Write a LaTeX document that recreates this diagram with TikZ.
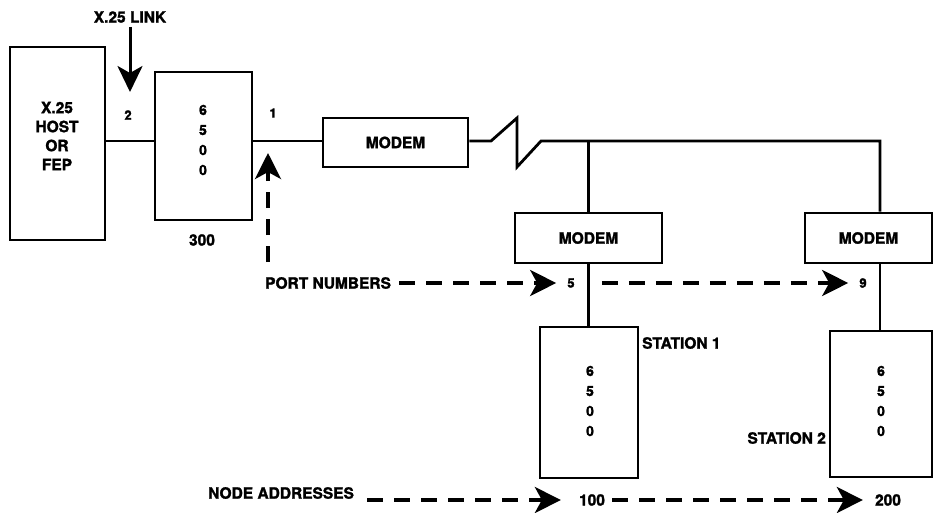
\documentclass[tikz,border=0pt]{standalone}
\usepackage{fontspec}
\setmainfont{TeX Gyre Heros}[BoldFeatures={FakeBold=1.6}]
\usetikzlibrary{arrows.meta}
\begin{document}
\begin{tikzpicture}[x=1pt,y=-1pt,
  box/.style={draw, line width=2.8pt, inner sep=0pt},
  lbl/.style={font=\fontsize{15.5}{19}\selectfont\bfseries, inner sep=0pt, align=center},
  dig/.style={font=\fontsize{14}{20}\selectfont\bfseries, inner sep=0pt, align=center},
  pnum/.style={font=\fontsize{13}{16}\selectfont\bfseries, inner sep=0pt, align=center},
  wire/.style={line width=2.8pt},
  darr/.style={line width=3.8pt, dash pattern=on 16pt off 11pt, -{Stealth[length=26pt,width=26pt,inset=7pt]}},
  sarr/.style={line width=3pt, -{Stealth[length=26pt,width=25pt,inset=7pt]}}]
\useasboundingbox (0,0) rectangle (951,512);
% boxes
\node[box, minimum width=95pt, minimum height=193pt] (host) at (57.5,143.5) {};
\node[lbl] (hosttxt) at (57,136) {X.25\\HOST\\OR\\FEP};
\node[box, minimum width=97pt, minimum height=148pt] (b300) at (203.5,146) {};
\node[dig] (b300txt) at (203,140) {6\\5\\0\\0};
\node[lbl] (n300) at (202,240) {300};
\node[box, minimum width=145pt, minimum height=49pt, lbl] (modA) at (395.5,142.5) {MODEM};
\node[box, minimum width=147pt, minimum height=50pt, lbl] (modB) at (588.5,238) {MODEM};
\node[box, minimum width=127pt, minimum height=50pt, lbl] (modC) at (868.5,238) {MODEM};
\node[box, minimum width=98pt, minimum height=151pt] (st1) at (589,402.5) {};
\node[dig] (st1txt) at (590,401) {6\\5\\0\\0};
\node[box, minimum width=102pt, minimum height=146pt] (st2) at (881,404) {};
\node[dig] (st2txt) at (881,401) {6\\5\\0\\0};
% labels
\node[lbl] (xlink) at (130,17) {X.25 LINK};
\node[pnum] (p2) at (128,115) {2};
\node[pnum] (p1) at (273,113) {1};
\node[lbl, anchor=west] (s1lbl) at (642,343) {STATION 1};
\node[lbl, anchor=east] (s2lbl) at (826,438) {STATION 2};
\node[lbl, anchor=west] (portlbl) at (265,283) {PORT NUMBERS};
\node[pnum] (p5) at (571,283) {5};
\node[pnum] (p9) at (863,283) {9};
\node[lbl, anchor=west] (nodelbl) at (208,493) {NODE ADDRESSES};
\node[lbl] (a100) at (592,500) {100};
\node[lbl] (a200) at (888,500) {200};
% wires
\coordinate (w) at (0,141);
\coordinate (z1) at (491,141);
\coordinate (z2) at (517,118);
\coordinate (z3) at (517,167);
\coordinate (z4) at (541,141);
\coordinate (jB) at (588.5,141);
\coordinate (jC) at (880,141);
\draw[wire] (host.east |- w) -- (b300.west |- w);
\draw[wire] (b300.east |- w) -- (modA.west |- w);
\draw[wire, line join=miter] (modA.east |- w) -- (z1) -- (z2) -- (z3) -- (z4) -- (jC) -- (jC |- modC.north);
\draw[wire] (jB) -- (modB.north);
\draw[wire] (modB.south) -- (modB.south |- st1.north);
\draw[wire] (jC |- modC.south) -- (jC |- st2.north);
% arrows
\coordinate (xtip) at (130,92);
\draw[sarr] ([yshift=-4pt]xlink.south) -- (xtip);
\coordinate (pa) at (268,262);
\coordinate (pb) at (268,153);
\draw[darr] (pa) -- (pb);
\draw[darr] ([xshift=8pt]portlbl.east) -- ([xshift=-11pt]p5.west);
\draw[darr] ([xshift=27pt]p5.east) -- ([xshift=-11pt]p9.west);
\draw[darr] ([xshift=13pt]nodelbl.east |- a100) -- ([xshift=-18pt]a100.west);
\draw[darr] ([xshift=7pt]a100.east) -- ([xshift=-12pt]a200.west);
\end{tikzpicture}
\end{document}
